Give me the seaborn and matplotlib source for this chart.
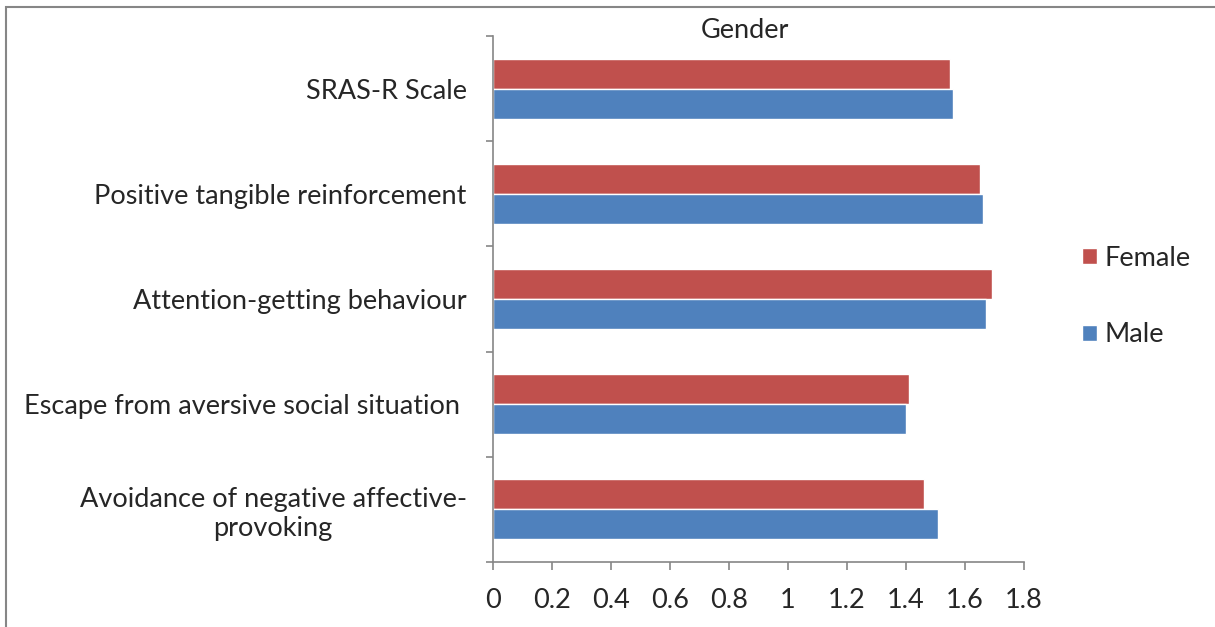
import numpy as np
import pandas as pd
import seaborn as sns
import matplotlib.pyplot as plt
from matplotlib.patches import Rectangle

# Dados
categories = ["SRAS-R Scale",
              "Positive tangible reinforcement",
              "Attention-getting behaviour",
              "Escape from aversive social situation ",
              "Avoidance of negative affective-\nprovoking"]
female = [1.55, 1.65, 1.69, 1.41, 1.46]
male = [1.56, 1.66, 1.67, 1.40, 1.51]
genders = ["Female", "Male"]
colors = ["#C0504D", "#4F81BD"]
xticks = [0, 0.2, 0.4, 0.6, 0.8, 1, 1.2, 1.4, 1.6, 1.8]

df = pd.DataFrame({
    "category": categories * 2,
    "gender": ["Female"] * len(categories) + ["Male"] * len(categories),
    "value": female + male,
})

sns.set_style("white")
plt.rcParams["font.family"] = ["Lato", "DejaVu Sans"]
fs = 19.5

W, H = 1215, 627
fig = plt.figure(figsize=(W / 100, H / 100), dpi=100)
ax = fig.add_axes([493 / W, 1 - 562 / H, (1024 - 493) / W, (562 - 36) / H])

sns.barplot(data=df, y="category", x="value", hue="gender", hue_order=genders,
            order=categories, palette=colors, orient="h", width=0.57,
            saturation=1, ax=ax, legend=True)

grey = "#868686"
for side in ["top", "right"]:
    ax.spines[side].set_visible(False)
for side in ["left", "bottom"]:
    ax.spines[side].set_color(grey)
    ax.spines[side].set_linewidth(1.2)

ax.set_xlim(0, 1.8)
ax.set_ylim(len(categories) - 0.5, -0.5)
ax.set_xticks(xticks)
ax.set_xticklabels([f"{t:g}" for t in xticks])
ax.tick_params(axis="x", direction="out", length=6, width=1.2, color=grey,
               bottom=True, labelsize=fs, pad=13)

# ticks nas fronteiras das categorias, rótulos no centro
ax.set_yticks(np.arange(len(categories) + 1) - 0.5)
ax.set_yticklabels([])
ax.tick_params(axis="y", which="major", direction="out", length=5, width=1.2,
               color=grey, left=True)
ax.set_yticks(np.arange(len(categories)), minor=True)
ax.set_yticklabels(categories, minor=True, multialignment="center")
ax.tick_params(axis="y", which="minor", length=0, labelsize=fs, pad=19)

ax.set_xlabel("")
ax.set_ylabel("")

fig.text(745 / W, 1 - 30 / H, "Gender", ha="center", va="center", fontsize=fs)

leg = ax.legend(loc="upper left", bbox_to_anchor=(1071 / W, 1 - 235 / H),
                bbox_transform=fig.transFigure, frameon=False, fontsize=fs,
                handlelength=0.55, handleheight=0.55, handletextpad=0.3,
                labelspacing=1.9, borderaxespad=0)

# moldura do gráfico
fig.patches.append(Rectangle((6 / W, -0.1), 1.5, 1 - 7 / H + 0.1,
                             transform=fig.transFigure, fill=False,
                             edgecolor=grey, linewidth=1.5))

plt.savefig("out.png", dpi=100)
